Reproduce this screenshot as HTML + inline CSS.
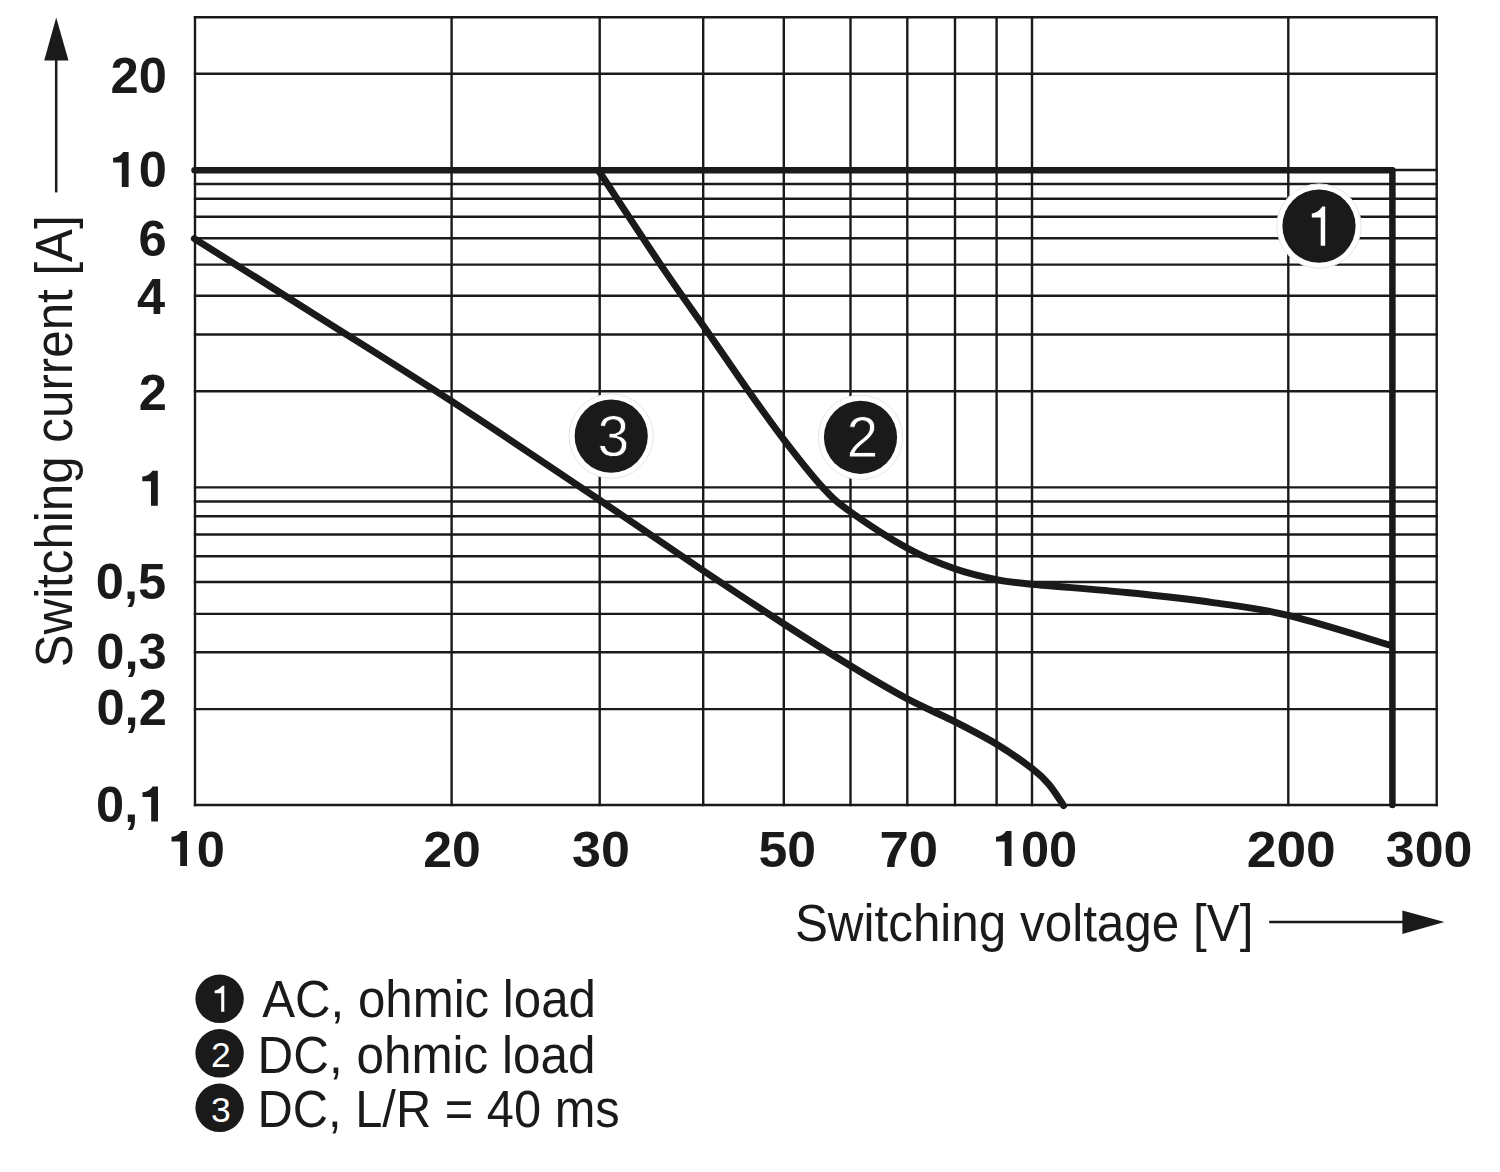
<!DOCTYPE html>
<html><head><meta charset="utf-8"><style>
html,body{margin:0;padding:0;background:#fff;width:1500px;height:1172px;overflow:hidden}
svg{display:block}
text{font-family:"Liberation Sans", sans-serif}
</style></head><body>
<svg width="1500" height="1172" viewBox="0 0 1500 1172">
<rect width="1500" height="1172" fill="#fff"/>
<g stroke="#1a1a1a" stroke-width="2.4" stroke-linecap="square" fill="none">
<line x1="195" y1="17.3" x2="195" y2="805.0"/>
<line x1="451.6" y1="17.3" x2="451.6" y2="805.0"/>
<line x1="599.7" y1="17.3" x2="599.7" y2="805.0"/>
<line x1="703.2" y1="17.3" x2="703.2" y2="805.0"/>
<line x1="783.8" y1="17.3" x2="783.8" y2="805.0"/>
<line x1="850.5" y1="17.3" x2="850.5" y2="805.0"/>
<line x1="907.3" y1="17.3" x2="907.3" y2="805.0"/>
<line x1="955.0" y1="17.3" x2="955.0" y2="805.0"/>
<line x1="996.6" y1="17.3" x2="996.6" y2="805.0"/>
<line x1="1032.0" y1="17.3" x2="1032.0" y2="805.0"/>
<line x1="1288.3" y1="17.3" x2="1288.3" y2="805.0"/>
<line x1="1436.7" y1="17.3" x2="1436.7" y2="805.0"/>
<line x1="195" y1="17.3" x2="1436.7" y2="17.3"/>
<line x1="195" y1="73.8" x2="1436.7" y2="73.8"/>
<line x1="195" y1="170" x2="1436.7" y2="170"/>
<line x1="195" y1="184.0" x2="1436.7" y2="184.0"/>
<line x1="195" y1="198.7" x2="1436.7" y2="198.7"/>
<line x1="195" y1="216.8" x2="1436.7" y2="216.8"/>
<line x1="195" y1="238.2" x2="1436.7" y2="238.2"/>
<line x1="195" y1="264.6" x2="1436.7" y2="264.6"/>
<line x1="195" y1="295.8" x2="1436.7" y2="295.8"/>
<line x1="195" y1="334.5" x2="1436.7" y2="334.5"/>
<line x1="195" y1="391.3" x2="1436.7" y2="391.3"/>
<line x1="195" y1="487.4" x2="1436.7" y2="487.4"/>
<line x1="195" y1="501.5" x2="1436.7" y2="501.5"/>
<line x1="195" y1="516.2" x2="1436.7" y2="516.2"/>
<line x1="195" y1="534.5" x2="1436.7" y2="534.5"/>
<line x1="195" y1="556.3" x2="1436.7" y2="556.3"/>
<line x1="195" y1="582.0" x2="1436.7" y2="582.0"/>
<line x1="195" y1="613.9" x2="1436.7" y2="613.9"/>
<line x1="195" y1="652.2" x2="1436.7" y2="652.2"/>
<line x1="195" y1="709.1" x2="1436.7" y2="709.1"/>
<line x1="195" y1="805.0" x2="1436.7" y2="805.0"/>
</g>
<g stroke="#1a1a1a" stroke-width="6.9" stroke-linecap="round" stroke-linejoin="round" fill="none">
<path stroke-width="6.5" d="M194.5,170.2 L1392.4,170.2 L1392.4,805" />
<path d="M598.5,170.5 C608.9,186.2 642.1,237.2 660.6,264.6 C679.1,292.0 694.9,313.6 709.6,334.7 C724.3,355.8 736.4,373.9 748.9,391.5 C761.4,409.1 772.3,424.6 784.6,440.6 C796.9,456.6 811.6,475.5 822.6,487.4 C833.6,499.3 836.5,501.9 850.6,512.0 C864.8,522.1 890.1,538.8 907.5,548.3 C924.9,557.8 940.0,563.6 954.8,568.8 C969.6,574.0 983.5,577.0 996.4,579.6 C1009.3,582.2 1010.3,582.1 1032.0,584.2 C1053.7,586.4 1096.2,589.4 1126.7,592.5 C1157.2,595.6 1187.8,599.0 1214.7,602.8 C1241.6,606.6 1259.0,608.3 1288.3,615.4 C1317.6,622.5 1373.6,640.3 1390.7,645.3" />
<path d="M194.3,238.6 C215.2,251.8 277.1,290.7 320.0,317.8 C362.9,344.9 404.9,370.8 451.5,401.2 C498.1,431.6 557.8,471.9 599.7,500.1 C641.6,528.3 672.3,549.9 703.0,570.5 C733.7,591.1 759.4,608.1 784.0,624.0 C808.6,639.9 829.9,653.3 850.4,665.8 C870.9,678.3 889.8,689.5 907.2,698.8 C924.6,708.1 939.8,714.0 954.7,721.6 C969.6,729.2 983.8,736.4 996.7,744.2 C1009.6,752.0 1023.4,761.9 1032.1,768.6 C1040.8,775.3 1043.8,778.3 1049.0,784.5 C1054.2,790.7 1061.2,802.1 1063.6,805.6" />
</g>
<g>
<circle cx="1319" cy="226.1" r="42.2" fill="#fff" stroke="#e6e6e6" stroke-width="1"/><circle cx="1319" cy="226.1" r="36.6" fill="#1a1a1a"/>
<path fill="#fff" d="M1325.20,245.80 L1325.20,206.40 L1322.18,206.40 C1320.79,208.85 1317.16,213.05 1311.80,213.40 L1311.80,217.50 L1320.70,217.50 L1320.70,245.80 Z"/>
<circle cx="860.5" cy="437.3" r="42.2" fill="#fff" stroke="#e6e6e6" stroke-width="1"/><circle cx="860.5" cy="437.3" r="36.6" fill="#1a1a1a"/>
<text x="846.4" y="457.2" font-size="57" fill="#fff" stroke="#1a1a1a" stroke-width="0.8">2</text>
<circle cx="611.2" cy="436.1" r="42.2" fill="#fff" stroke="#e6e6e6" stroke-width="1"/><circle cx="611.2" cy="436.1" r="36.6" fill="#1a1a1a"/>
<text x="597.6" y="455.7" font-size="57" fill="#fff" stroke="#1a1a1a" stroke-width="0.8">3</text>
</g>
<g fill="#1a1a1a" font-size="50.6" font-weight="bold">
<text x="166.9" y="92.6" text-anchor="end">20</text>
<text x="166.6" y="255.7" text-anchor="end">6</text>
<text x="165.1" y="313.5" text-anchor="end">4</text>
<text x="166.8" y="410" text-anchor="end">2</text>
<text x="166.2" y="598.5" text-anchor="end">0,5</text>
<text x="166.6" y="668.5" text-anchor="end">0,3</text>
<text x="166.8" y="725" text-anchor="end">0,2</text>
<text x="166.9" y="187" text-anchor="end">0</text>
<path fill="#1a1a1a" d="M128.60,187.00 L128.60,152.10 L123.16,152.10 C121.94,154.09 119.30,157.51 113.10,157.80 L113.10,162.60 L121.80,162.60 L121.80,187.00 Z"/>
<path fill="#1a1a1a" d="M157.80,505.70 L157.80,470.80 L152.36,470.80 C151.14,472.80 148.50,476.22 142.30,476.50 L142.30,481.30 L151.00,481.30 L151.00,505.70 Z"/>
<text x="96.0" y="821.5">0,</text>
<path fill="#1a1a1a" d="M158.00,821.50 L158.00,786.60 L152.56,786.60 C151.34,788.60 148.70,792.01 142.50,792.30 L142.50,797.10 L151.20,797.10 L151.20,821.50 Z"/>
<text x="423.2" y="866.5" textLength="57.6" lengthAdjust="spacingAndGlyphs">20</text>
<text x="572.1" y="866.5" textLength="57.8" lengthAdjust="spacingAndGlyphs">30</text>
<text x="758.4" y="866.5" textLength="57.6" lengthAdjust="spacingAndGlyphs">50</text>
<text x="879.5" y="866.5" textLength="58.6" lengthAdjust="spacingAndGlyphs">70</text>
<text x="1246.8" y="866.5" textLength="89" lengthAdjust="spacingAndGlyphs">200</text>
<text x="1385.8" y="866.5" textLength="86.6" lengthAdjust="spacingAndGlyphs">300</text>
<path fill="#1a1a1a" d="M187.00,866.00 L187.00,831.10 L181.56,831.10 C180.34,833.10 177.70,836.51 171.50,836.80 L171.50,841.60 L180.20,841.60 L180.20,866.00 Z"/>
<text x="196.8" y="866.5">0</text>
<path fill="#1a1a1a" d="M1011.50,866.00 L1011.50,831.10 L1006.06,831.10 C1004.84,833.10 1002.20,836.51 996.00,836.80 L996.00,841.60 L1004.70,841.60 L1004.70,866.00 Z"/>
<text x="1020.9" y="866.5">00</text>
</g>
<g fill="#1a1a1a" font-size="51">
<text x="794.9" y="940.5" textLength="458.5" lengthAdjust="spacingAndGlyphs">Switching voltage [V]</text>
<text transform="translate(72.2,667.3) rotate(-90)" textLength="452" lengthAdjust="spacingAndGlyphs">Switching current [A]</text>
</g>
<g stroke="#1a1a1a" stroke-width="2.5" fill="none">
<line x1="56.2" y1="55" x2="56.2" y2="192.4"/>
<line x1="1269.2" y1="921.9" x2="1410" y2="921.9"/>
</g>
<g fill="#1a1a1a">
<polygon points="56.2,17.4 44.2,60.4 68.5,60.4"/>
<polygon points="1444.4,921.9 1402.4,910.4 1402.4,933.9"/>
</g>
<g>
<circle cx="219.6" cy="998.8" r="24.2" fill="#1a1a1a"/>
<text x="262.2" y="1017" font-size="51" fill="#1a1a1a" textLength="333.7" lengthAdjust="spacingAndGlyphs">AC, ohmic load</text>
<circle cx="219.6" cy="1053.3" r="24.2" fill="#1a1a1a"/>
<text x="257.6" y="1073" font-size="51" fill="#1a1a1a" textLength="337.8" lengthAdjust="spacingAndGlyphs">DC, ohmic load</text>
<circle cx="219.6" cy="1107.8" r="24.2" fill="#1a1a1a"/>
<text x="257.6" y="1127" font-size="51" fill="#1a1a1a" textLength="362.1" lengthAdjust="spacingAndGlyphs">DC, L/R = 40 ms</text>
<path fill="#fff" d="M224.30,1011.80 L224.30,985.80 L222.22,985.80 C221.26,987.41 218.54,990.17 214.70,990.40 L214.70,993.20 L221.20,993.20 L221.20,1011.80 Z"/>
<text x="220.9" y="1066.7" font-size="35.5" fill="#fff" text-anchor="middle">2</text>
<text x="220.9" y="1121.6" font-size="35.5" fill="#fff" text-anchor="middle">3</text>
</g>
</svg>
</body></html>
